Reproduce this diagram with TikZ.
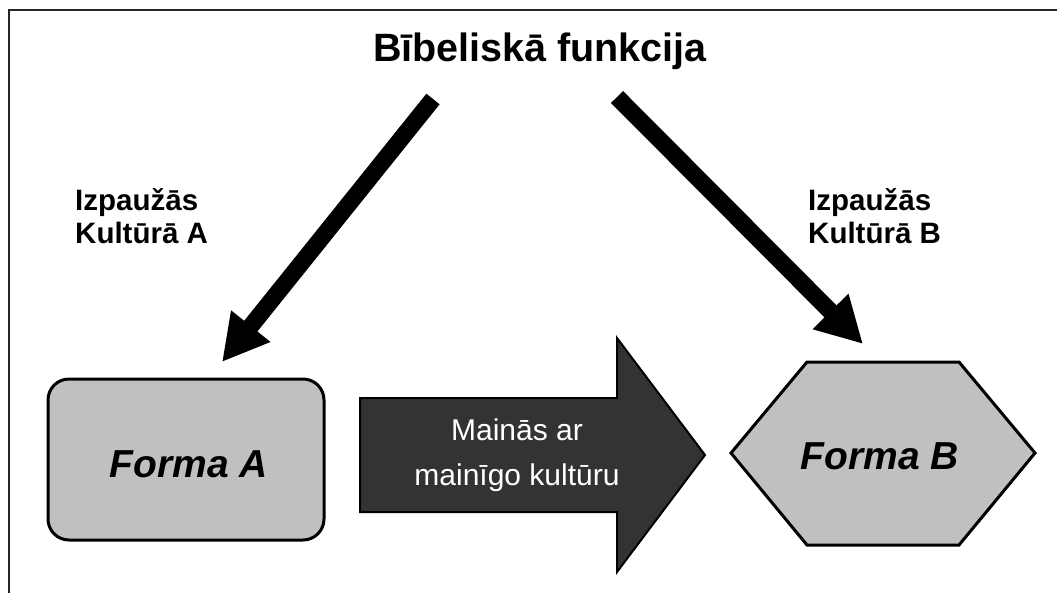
\documentclass[tikz,border=0pt]{standalone}
\usepackage{fontspec}
\setmainfont{Liberation Sans}
\usetikzlibrary{arrows.meta}
\definecolor{lightfill}{HTML}{C0C0C0}
\definecolor{darkfill}{HTML}{333333}
\tikzset{
  bigarrow/.style={line width=17pt, -{Triangle[width=47pt,length=46pt]}, black},
  shapeline/.style={draw=black, line width=3pt, line join=round},
  formtext/.style={font=\fontsize{39}{44}\selectfont\bfseries\itshape, anchor=base, inner sep=0pt},
  labeltext/.style={font=\fontsize{29.5}{33.5}\selectfont\bfseries, align=left, anchor=north west, inner sep=0pt},
}
\begin{document}
\begin{tikzpicture}[x=1pt,y=-1pt]
\useasboundingbox (0,0) rectangle (1057,592);
\begin{scope}
\clip (0,0) rectangle (1057,592);
\draw[line width=2pt, black!85] (9,10) rectangle (1070,610);
\end{scope}

\node[font=\fontsize{39.5}{44}\selectfont\bfseries, anchor=base, inner sep=0pt] (title) at (540,61) {Bībeliskā funkcija};

\node[labeltext] (labA) at (75,188) {Izpaužās\\Kultūrā A};
\node[labeltext] (labB) at (808,188) {Izpaužās\\Kultūrā B};

% Forma A
\draw[shapeline, fill=lightfill, rounded corners=21pt] (48,379) rectangle (324,540);
\node[formtext] (formA) at (189,477) {Forma A};

% Forma B hexagon
\draw[shapeline, fill=lightfill, line join=miter] (731,453) -- (807,362) -- (959,362) -- (1035,453) -- (959,545) -- (807,545) -- cycle;
\node[formtext] (formB) at (880,469) {Forma B};

% big arrow
\draw[draw=black, line width=2pt, fill=darkfill, line join=miter] (360,398) -- (617,398) -- (617,338) -- (705,455) -- (617,572) -- (617,512) -- (360,512) -- cycle;
\node[font=\fontsize{30}{45}\selectfont, text=white, align=center, inner sep=0pt] (change) at (517,455) {Mainās ar\\mainīgo kultūru};

% diagonal arrows
\coordinate (sA) at (433,99);
\coordinate (tA) at (222,362);
\coordinate (sB) at (617,97);
\coordinate (tB) at (863,344);
\draw[bigarrow] (sA) -- (tA);
\draw[bigarrow] (sB) -- (tB);
\end{tikzpicture}
\end{document}
